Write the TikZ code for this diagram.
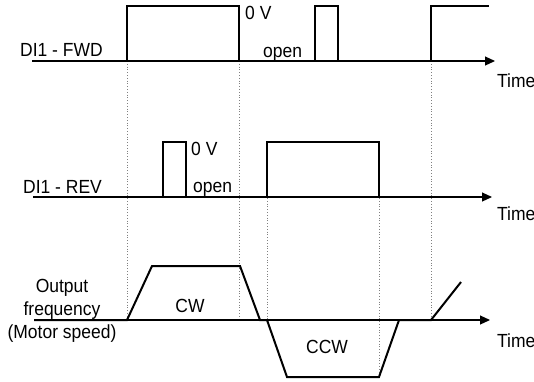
\documentclass[tikz,border=0pt]{standalone}
\usepackage{fontspec}
\setmainfont{Liberation Sans}[FakeStretch=0.92]
\usetikzlibrary{arrows.meta}
\begin{document}
\begin{tikzpicture}[x=1pt,y=-1pt,
  axis/.style={line width=1.1pt,-{Triangle[length=10pt,width=9pt]}},
  sig/.style={line width=2pt,line join=miter},
  guide/.style={gray,line width=0.8pt,dotted},
  lbl/.style={font=\fontsize{19}{21}\selectfont,inner sep=0pt,anchor=base west},
  clbl/.style={font=\fontsize{19}{21}\selectfont,inner sep=0pt,anchor=base}]
\useasboundingbox (0,0) rectangle (534,381);
% ---- coordinates
\coordinate (fa) at (32,61); \coordinate (fe) at (495,61);
\coordinate (ra) at (33,197); \coordinate (re) at (492,197);
\coordinate (oa) at (34,320); \coordinate (oe) at (490,320);
% dotted guides
\draw[guide] (127,61) -- (127,320);
\draw[guide] (239,61) -- (239,320);
\draw[guide] (267,142) -- (267,320);
\draw[guide] (379,142) -- (379,377);
\draw[guide] (431,61) -- (431,320);
% axes
\draw[axis] (fa) -- (fe);
\draw[axis] (ra) -- (re);
\draw[axis] (oa) -- (oe);
% FWD signal
\draw[sig] (fa) -- (127,61) -- (127,6) -- (239,6) -- (239,61) -- (315,61) -- (315,6) -- (338,6) -- (338,61) -- (431,61) -- (431,6) -- (489,6);
% REV signal
\draw[sig] (ra) -- (163,197) -- (163,142) -- (186,142) -- (186,197) -- (267,197) -- (267,142) -- (379,142) -- (379,197);
% output frequency
\draw[sig] (oa) -- (127,320) -- (152,266) -- (240,266) -- (260,320) -- (267,320) -- (287,377) -- (379,377) -- (399,320) -- (431,320) -- (461,282);
% labels
\node[lbl] (lfwd) at (20,56) {DI1 - FWD};
\node[lbl] (t1) at (497,87) {Time};
\node[lbl] (v1) at (245,19) {0 V};
\node[lbl] (o1) at (263,57) {open};
\node[lbl] (lrev) at (23,193) {DI1 - REV};
\node[lbl] (t2) at (497,220) {Time};
\node[lbl] (v2) at (191,155) {0 V};
\node[lbl] (o2) at (193,192) {open};
\node[clbl] (out1) at (62,292) {Output};
\node[clbl] (out2) at (62,315) {frequency};
\node[clbl] (out3) at (62,338) {(Motor speed)};
\node[clbl] (cw) at (190,312) {CW};
\node[clbl] (ccw) at (327,353) {CCW};
\node[lbl] (t3) at (497,347) {Time};
\end{tikzpicture}
\end{document}
